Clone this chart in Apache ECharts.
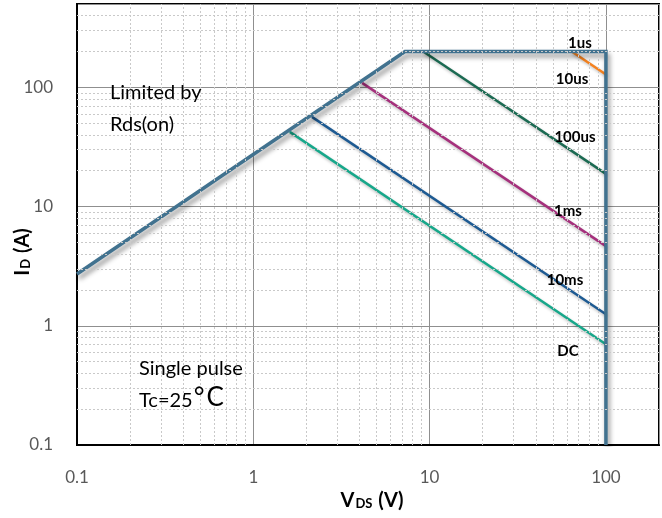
<!DOCTYPE html>
<html>
<head>
<meta charset="utf-8">
<script src="https://cdn.jsdelivr.net/npm/echarts@6/dist/echarts.min.js"></script>
<style>
  html, body { margin: 0; padding: 0; background: #fff; }
  #chart { width: 662px; height: 518px; }
</style>
</head>
<body>
<div id="chart"></div>
<script>
// Safe operating area, VDS (V) vs ID (A), log-log
const xRange = [0.1, 200];
const yRange = [0.1, 500];

// Operating boundary: Rds(on) limit, current limit, voltage limit
const boundaryV = [0.1, 7.25, 100, 100];
const boundaryI = [2.72, 200, 200, 0.1];

// Pulse-width limit lines: [VDS start, VDS end] and [ID start, ID end]
const pulseNames = ['10us', '100us', '1ms', '10ms', 'DC'];
const pulseV = [[64, 100], [9.2, 100], [4.14, 100], [2.15, 100], [1.61, 100]];
const pulseI = [[200, 128], [200, 18.8], [109, 4.66], [56.5, 1.25], [42.3, 0.70]];
const pulseColors = ['#f5821f', '#1b6a52', '#a5307c', '#1d5a92', '#17a78a'];

// Minor log gridlines (2..9 of each decade)
const xMinor = [0.2, 0.3, 0.4, 0.5, 0.6, 0.7, 0.8, 0.9, 2, 3, 4, 5, 6, 7, 8, 9, 20, 30, 40, 50, 60, 70, 80, 90];
const yMinor = [0.2, 0.3, 0.4, 0.5, 0.6, 0.7, 0.8, 0.9, 2, 3, 4, 5, 6, 7, 8, 9, 20, 30, 40, 50, 60, 70, 80, 90, 200, 300, 400];

const chart = echarts.init(document.getElementById('chart'));
const FONT = 'Lato, "Open Sans", sans-serif';

const series = [];

// minor dotted grid
series.push({
  type: 'line', data: [], silent: true, z: 1,
  markLine: {
    silent: true, symbol: 'none', animation: false,
    label: { show: false },
    lineStyle: { color: '#c9c9c9', type: [2, 2], width: 1 },
    data: xMinor.map(v => ({ xAxis: v })).concat(yMinor.map(v => ({ yAxis: v })))
  }
});

pulseNames.forEach((name, i) => {
  series.push({
    name: name, type: 'line', z: 3, symbol: 'none', animation: false,
    data: pulseV[i].map((v, k) => [v, pulseI[i][k]]),
    lineStyle: { color: pulseColors[i], width: 2.5,
      shadowColor: 'rgba(0,0,0,0.25)', shadowBlur: 3, shadowOffsetX: 1, shadowOffsetY: 2 }
  });
});

series.push({
  name: 'SOA', type: 'line', z: 4, symbol: 'none', animation: false,
  data: boundaryV.map((v, k) => [v, boundaryI[k]]),
  lineStyle: { color: '#41728f', width: 3.5, join: 'miter',
    shadowColor: 'rgba(0,0,0,0.45)', shadowBlur: 5, shadowOffsetX: 2, shadowOffsetY: 4 }
});

const labelStyle = { fontFamily: FONT, fontWeight: 'bold', fontSize: 15, fill: '#000', textAlign: 'center', textVerticalAlign: 'middle' };
const noteStyle = { fontFamily: FONT, fontSize: 20, fill: '#000', textVerticalAlign: 'middle' };

function tag(text, x, y) {
  return { type: 'text', x: x, y: y, z: 10, style: Object.assign({ text: text }, labelStyle) };
}
function note(text, x, y) {
  return { type: 'text', x: x, y: y, z: 10, style: Object.assign({ text: text }, noteStyle) };
}

const axisCommon = {
  type: 'log', logBase: 10,
  axisLine: { show: true, lineStyle: { color: '#000', width: 2 } },
  axisTick: { show: false },
  minorTick: { show: false },
  minorSplitLine: { show: false },
  axisLabel: { color: '#595959', fontSize: 17, fontFamily: FONT, margin: 24, showMaxLabel: false,
    formatter: v => String(+v.toPrecision(3)) },
  splitLine: { show: true, lineStyle: { color: '#8f8f8f', width: 1 } }
};

chart.setOption({
  backgroundColor: '#fff',
  animation: false,
  grid: { left: 77, top: 4, right: 3, bottom: 73, outerBoundsMode: 'none', containLabel: false,
    show: true, borderColor: '#000', borderWidth: 2, backgroundColor: 'transparent' },
  xAxis: Object.assign({}, axisCommon, { min: xRange[0], max: xRange[1] }),
  yAxis: Object.assign({}, axisCommon, { min: yRange[0], max: yRange[1] }),
  series: series,
  graphic: [
    note('Limited by', 110, 93),
    note('Rds(on)', 110, 125),
    note('Single pulse', 139, 369),
    { type: 'text', x: 139, y: 398, z: 10, style: {
      text: '{a|Tc=25}{d|°}{c|C}', textVerticalAlign: 'middle',
      rich: {
        a: { fontFamily: FONT, fontSize: 20, color: '#000', verticalAlign: 'bottom' },
        d: { fontFamily: FONT, fontSize: 26, color: '#000', verticalAlign: 'top', padding: [0, 2, 0, 1] },
        c: { fontFamily: FONT, fontSize: 26, color: '#000', verticalAlign: 'bottom' }
      } } },
    tag('1us', 580, 43),
    tag('10us', 572, 79),
    tag('100us', 575, 137),
    tag('1ms', 568, 211),
    tag('10ms', 565, 280),
    tag('DC', 568, 351),
    // axis titles
    { type: 'text', x: 372, y: 500, z: 10, style: {
      text: '{b|V}{s|DS}{b| (V)}', textAlign: 'center', textVerticalAlign: 'middle',
      rich: {
        b: { fontSize: 20, fontWeight: 'bold', fontFamily: FONT, color: '#000', verticalAlign: 'bottom' },
        s: { fontSize: 13, fontWeight: 'bold', fontFamily: FONT, color: '#000', verticalAlign: 'bottom', padding: [8, 1, 0, 1] }
      } } },
    { type: 'text', x: 22, y: 252, rotation: Math.PI / 2, z: 10, style: {
      text: '{b|I}{s|D}{b| (A)}', textAlign: 'center', textVerticalAlign: 'middle',
      rich: {
        b: { fontSize: 20, fontWeight: 'bold', fontFamily: FONT, color: '#000', verticalAlign: 'bottom' },
        s: { fontSize: 13, fontWeight: 'bold', fontFamily: FONT, color: '#000', verticalAlign: 'bottom', padding: [8, 1, 0, 1] }
      } } }
  ]
});
</script>
</body>
</html>
